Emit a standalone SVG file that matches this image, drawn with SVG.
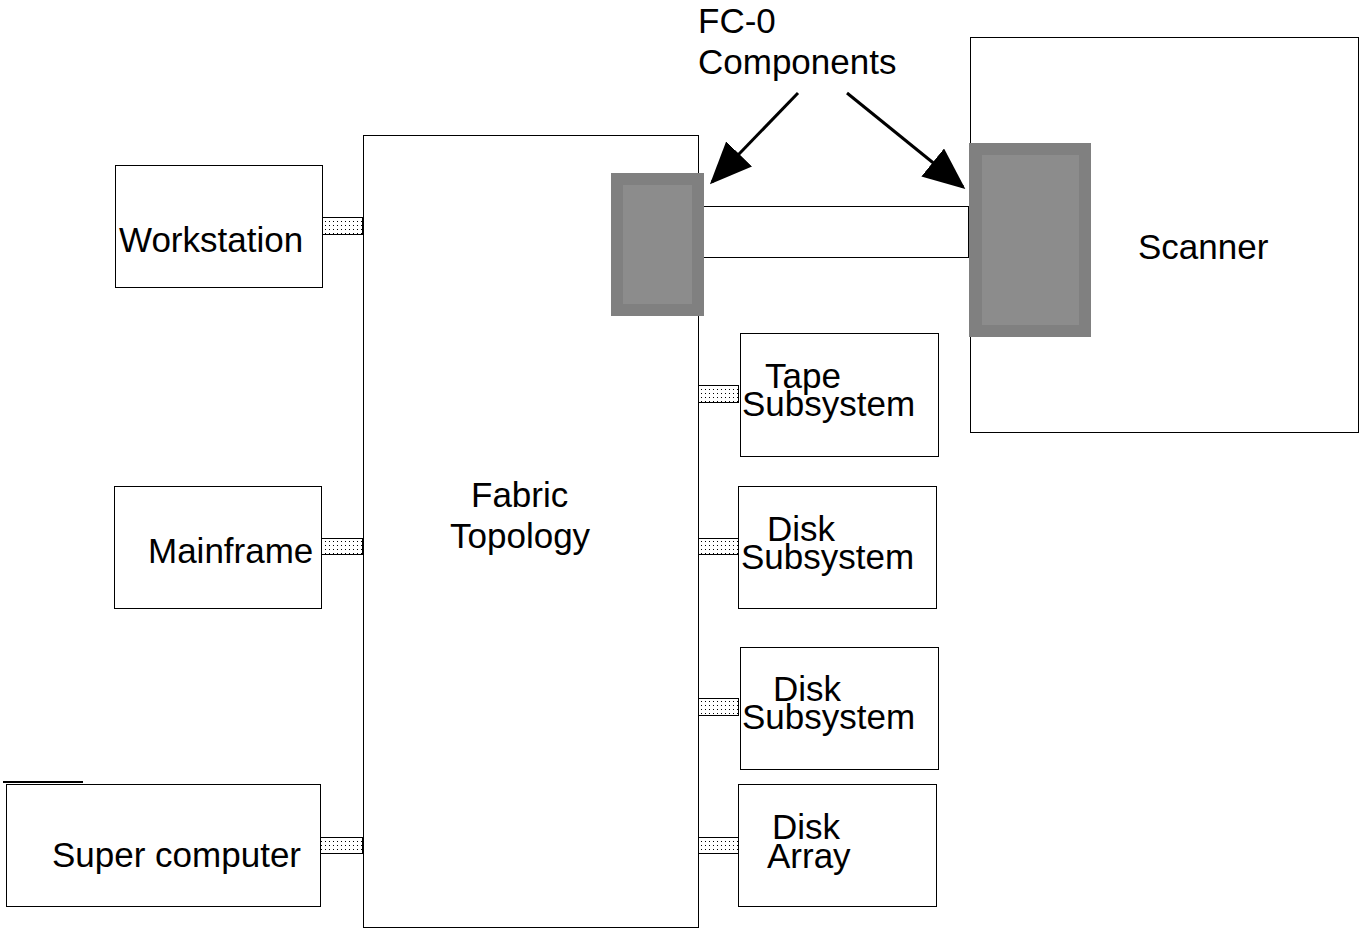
<svg xmlns="http://www.w3.org/2000/svg" width="1359" height="931" viewBox="0 0 1359 931">
<style>
.box{fill:#fff;stroke:#000;stroke-width:1}
.t{font-family:"Liberation Sans",Arial,sans-serif;font-size:35px;fill:#000}
.port{fill:url(#dots);stroke:#000;stroke-width:1}
.fco{fill:#808080}
.fci{fill:#8c8c8c}
.arr{stroke:#000;stroke-width:3;fill:none;marker-end:url(#ah)}
</style>
<defs>
<pattern id="dots" width="4" height="4" patternUnits="userSpaceOnUse">
<rect width="4" height="4" fill="#fff"/>
<rect x="1" y="1" width="1" height="1" fill="#000"/>
</pattern>
<marker id="ah" markerWidth="14" markerHeight="12" refX="13" refY="6" orient="auto" markerUnits="strokeWidth">
<path d="M0,0 L14,6 L0,12 Z" fill="#000"/>
</marker>
</defs>
<g id="fabric"><rect class="box" x="363.5" y="135.5" width="335" height="792"/><text class="t" x="471" y="507">Fabric</text><text class="t" x="450" y="548">Topology</text></g>
<g id="workstation"><rect class="box" x="115.5" y="165.5" width="207" height="122"/><text class="t" x="119" y="252">Workstation</text></g>
<g id="mainframe"><rect class="box" x="114.5" y="486.5" width="207" height="122"/><text class="t" x="148" y="563">Mainframe</text></g>
<g id="supercomputer"><rect class="box" x="6.5" y="784.5" width="314" height="122"/><line x1="3" y1="782" x2="83" y2="782" stroke="#000" stroke-width="2"/><text class="t" x="52" y="867">Super computer</text></g>
<g id="tape"><rect class="box" x="740.5" y="333.5" width="198" height="123"/><text class="t" x="765" y="388">Tape</text><text class="t" x="742" y="416">Subsystem</text></g>
<g id="disk1"><rect class="box" x="738.5" y="486.5" width="198" height="122"/><text class="t" x="767" y="541">Disk</text><text class="t" x="741" y="569">Subsystem</text></g>
<g id="disk2"><rect class="box" x="740.5" y="647.5" width="198" height="122"/><text class="t" x="773" y="701">Disk</text><text class="t" x="742" y="729">Subsystem</text></g>
<g id="diskarray"><rect class="box" x="738.5" y="784.5" width="198" height="122"/><text class="t" x="772" y="839">Disk</text><text class="t" x="767" y="868">Array</text></g>
<g id="scanner"><rect class="box" x="970.5" y="37.5" width="388" height="395"/><text class="t" x="1138" y="259">Scanner</text></g>
<g id="link"><rect class="box" x="703.5" y="206.5" width="265" height="51"/></g>
<g id="fc0-fabric"><rect class="fco" x="611" y="173" width="93" height="143"/><rect class="fci" x="623" y="185" width="69" height="119"/></g>
<g id="fc0-scanner"><rect class="fco" x="969" y="143" width="122" height="194"/><rect class="fci" x="982" y="155" width="97" height="170"/></g>
<g id="fc0-label"><text class="t" x="698" y="33">FC-0</text><text class="t" x="698" y="74">Components</text></g>
<g id="connectors">
<rect class="port" x="322.5" y="217.5" width="40" height="17"/>
<rect class="port" x="321.5" y="538.5" width="41" height="16"/>
<rect class="port" x="320.5" y="837.5" width="42" height="16"/>
<rect class="port" x="698.5" y="385.5" width="40" height="17"/>
<rect class="port" x="698.5" y="538.5" width="40" height="16"/>
<rect class="port" x="698.5" y="698.5" width="40" height="17"/>
<rect class="port" x="698.5" y="837.5" width="40" height="16"/>
<line class="arr" x1="798" y1="93" x2="712" y2="182"/>
<line class="arr" x1="847" y1="93" x2="963" y2="187"/>
</g>
</svg>
